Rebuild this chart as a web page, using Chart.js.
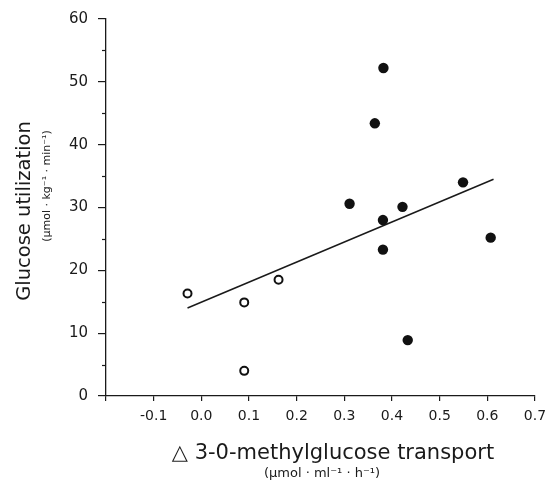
<!DOCTYPE html>
<html>
<head>
<meta charset="utf-8">
<script src="https://cdn.jsdelivr.net/npm/chart.js@4.4.1/dist/chart.umd.min.js"></script>
<style>
  html, body { margin: 0; padding: 0; background: #ffffff; }
  #wrap { width: 548px; height: 482px; }
</style>
</head>
<body>
<div id="wrap"><canvas id="c" width="548" height="482"></canvas></div>
<script>
// Open circles (control group)
const openX = [-0.029, 0.090, 0.090, 0.162];
const openY = [16.3, 14.9, 4.0, 18.5];
// Filled circles
const filledX = [0.382, 0.364, 0.311, 0.422, 0.381, 0.381, 0.549, 0.607, 0.433];
const filledY = [52.2, 43.4, 30.6, 30.1, 28.0, 23.3, 34.0, 25.2, 8.9];
// Regression line end points
const lineX = [-0.029, 0.613];
const lineY = [14.0, 34.5];
// Axis ticks
const xTicks = [-0.2, -0.1, 0.0, 0.1, 0.2, 0.3, 0.4, 0.5, 0.6, 0.7];
const yTicks = [0, 10, 20, 30, 40, 50, 60];
const yMinorTicks = [5, 15, 25, 35, 45, 55];

const yTitle = 'Glucose utilization';
const ySub = '(\u00B5mol \u00B7 kg\u207B\u00B9 \u00B7 min\u207B\u00B9)';
const xTitle = '\u25B3 3-0-methylglucose transport';
const xSub = '(\u00B5mol \u00B7 ml\u207B\u00B9 \u00B7 h\u207B\u00B9)';

const FONT = '"DejaVu Sans", "Noto Sans", sans-serif';
const INK = '#1a1a1a';

const zip = (xs, ys) => xs.map((x, i) => ({ x: x, y: ys[i] }));

const extras = {
  id: 'extras',
  afterDraw(chart) {
    const ctx = chart.ctx;
    const xs = chart.scales.x, ys = chart.scales.y;
    ctx.save();
    // minor y ticks
    ctx.strokeStyle = INK;
    ctx.lineWidth = 1.2;
    yMinorTicks.forEach(v => {
      const py = Math.round(ys.getPixelForValue(v)) + 0.5;
      ctx.beginPath();
      ctx.moveTo(xs.left - 4, py);
      ctx.lineTo(xs.left, py);
      ctx.stroke();
    });
    ctx.fillStyle = INK;
    ctx.textAlign = 'center';
    ctx.textBaseline = 'middle';
    // y titles
    ctx.save();
    ctx.translate(25, 211);
    ctx.rotate(-Math.PI / 2);
    ctx.font = '19.5px ' + FONT;
    ctx.fillText(yTitle, 0, 0);
    ctx.restore();
    ctx.save();
    ctx.translate(47, 186);
    ctx.rotate(-Math.PI / 2);
    ctx.font = '11px ' + FONT;
    ctx.fillText(ySub, 0, 0);
    ctx.restore();
    // x titles
    ctx.font = '21px ' + FONT;
    ctx.fillText(xTitle, 333, 454);
    ctx.font = '13px ' + FONT;
    ctx.fillText(xSub, 322, 474);
    ctx.restore();
  }
};

new Chart(document.getElementById('c'), {
  type: 'scatter',
  data: {
    datasets: [
      {
        type: 'line',
        data: zip(lineX, lineY),
        borderColor: INK,
        borderWidth: 1.5,
        pointRadius: 0,
        fill: false,
        order: 3
      },
      {
        data: zip(filledX, filledY),
        backgroundColor: '#111111',
        borderColor: '#111111',
        borderWidth: 0,
        pointRadius: 5.2,
        order: 1
      },
      {
        data: zip(openX, openY),
        backgroundColor: '#ffffff',
        borderColor: '#111111',
        borderWidth: 2,
        pointRadius: 4,
        order: 2
      }
    ]
  },
  options: {
    responsive: false,
    animation: false,
    layout: { padding: { left: 0, right: 13, top: 19, bottom: 0 } },
    plugins: { legend: { display: false }, tooltip: { enabled: false } },
    scales: {
      x: {
        type: 'linear',
        min: -0.2,
        max: 0.7,
        afterBuildTicks: s => { s.ticks = xTicks.map(v => ({ value: v })); },
        afterFit: s => { s.height = 86; s.paddingRight = 0; s.paddingLeft = 0; },
        border: { display: true, color: INK, width: 1.3 },
        grid: { display: true, drawOnChartArea: false, drawTicks: true, tickLength: 5, color: INK, lineWidth: 1.2 },
        ticks: {
          color: INK,
          font: { family: FONT, size: 14 },
          padding: 7,
          maxRotation: 0,
          autoSkip: false,
          callback: v => (Math.abs(v + 0.2) < 1e-6 ? '' : v.toFixed(1))
        }
      },
      y: {
        type: 'linear',
        min: 0,
        max: 60,
        afterBuildTicks: s => { s.ticks = yTicks.map(v => ({ value: v })); },
        afterFit: s => { s.width = 106; s.paddingTop = 0; s.paddingBottom = 0; },
        border: { display: true, color: INK, width: 1.3 },
        grid: { display: true, drawOnChartArea: false, drawTicks: true, tickLength: 8, color: INK, lineWidth: 1.2 },
        ticks: {
          color: INK,
          font: { family: FONT, size: 15 },
          padding: 10,
          autoSkip: false,
          callback: v => String(v)
        }
      }
    }
  },
  plugins: [extras]
});
</script>
</body>
</html>
